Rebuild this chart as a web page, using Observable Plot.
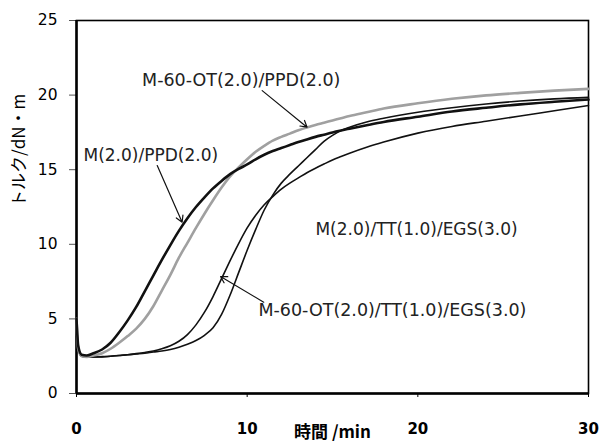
<!DOCTYPE html>
<html><head><meta charset="utf-8">
<script src="https://cdn.jsdelivr.net/npm/d3@7"></script>
<script src="https://cdn.jsdelivr.net/npm/@observablehq/plot@0.6"></script>
<style>body{margin:0;background:#fff}</style>
</head><body><div id="chart"></div>
<script>
const times = [0, 0.1, 0.3, 0.6, 1, 1.5, 2, 2.5, 3, 3.5, 4, 4.5, 5, 5.5, 6, 6.5, 7, 7.5, 8, 8.5, 9, 9.5, 10, 10.5, 11, 11.5, 12, 12.5, 13, 13.5, 14, 14.5, 15, 15.5, 16, 17, 18, 20, 22, 24, 26, 28, 30];
const seriesNames = ["M(2.0)/PPD(2.0)", "M-60-OT(2.0)/PPD(2.0)", "M(2.0)/TT(1.0)/EGS(3.0)", "M-60-OT(2.0)/TT(1.0)/EGS(3.0)"];
const mPPD = [5.0, 3.2, 2.6, 2.55, 2.7, 2.95, 3.4, 4.1, 4.9, 5.8, 6.85, 7.9, 8.95, 9.95, 10.9, 11.75, 12.5, 13.15, 13.75, 14.25, 14.7, 15.05, 15.35, 15.7, 16.0, 16.25, 16.45, 16.65, 16.85, 17.03, 17.2, 17.35, 17.5, 17.63, 17.75, 17.98, 18.2, 18.55, 18.9, 19.15, 19.38, 19.55, 19.7];
const m60PPD = [5.0, 3.0, 2.5, 2.45, 2.55, 2.7, 3.0, 3.4, 3.85, 4.35, 5.0, 5.85, 6.9, 7.95, 9.1, 10.1, 11.1, 12.05, 12.95, 13.8, 14.55, 15.15, 15.7, 16.2, 16.6, 16.95, 17.2, 17.42, 17.65, 17.83, 18.0, 18.15, 18.3, 18.45, 18.6, 18.85, 19.1, 19.45, 19.75, 19.98, 20.15, 20.3, 20.42];
const mTT = [5.0, 3.0, 2.5, 2.45, 2.45, 2.45, 2.5, 2.55, 2.6, 2.65, 2.7, 2.78, 2.85, 2.95, 3.1, 3.3, 3.55, 3.9, 4.4, 5.3, 6.6, 8.1, 9.6, 11.0, 12.3, 13.3, 14.1, 14.7, 15.25, 15.8, 16.35, 16.9, 17.3, 17.62, 17.85, 18.2, 18.45, 18.85, 19.15, 19.4, 19.6, 19.75, 19.85];
const m60TT = [5.0, 3.0, 2.5, 2.45, 2.45, 2.47, 2.5, 2.55, 2.6, 2.67, 2.75, 2.85, 3.0, 3.2, 3.5, 3.95, 4.6, 5.45, 6.5, 7.7, 8.9, 10.05, 11.1, 11.95, 12.65, 13.2, 13.7, 14.1, 14.45, 14.8, 15.1, 15.38, 15.65, 15.88, 16.1, 16.5, 16.85, 17.45, 17.9, 18.25, 18.6, 18.95, 19.3];
const xTicks = [0, 10, 20, 30];
const yTicks = [0, 5, 10, 15, 20, 25];
const xTitle = "時間 /min";
const yTitle = "トルク/dN・m";

const allValues = [mPPD, m60PPD, mTT, m60TT];
const rows = [];
seriesNames.forEach((name, i) => {
  times.forEach((t, j) => rows.push({series: name, t, v: allValues[i][j]}));
});
const only = (name) => rows.filter(d => d.series === name);

const chart = Plot.plot({
  width: 613, height: 448,
  marginLeft: 76, marginRight: 25, marginTop: 20, marginBottom: 55,
  x: {domain: [0, 30]},
  y: {domain: [0, 25]},
  style: {fontFamily: "DejaVu Sans", background: "white", color: "black"},
  marks: [
    Plot.axisY({ticks: yTicks, tickSize: 7, tickPadding: 12, fontSize: 15.5, label: null, stroke: "#555"}),
    Plot.axisX({ticks: xTicks, tickSize: 4, tickPadding: 26, fontSize: 15, fontWeight: "bold", label: null}),
    Plot.frame({strokeWidth: 1.6}),
    Plot.ruleX([0], {strokeWidth: 2.5}),
    Plot.ruleY([0], {strokeWidth: 2.5}),
    Plot.line(only(seriesNames[3]), {x: "t", y: "v", stroke: "#111", strokeWidth: 1.6, curve: "monotone-x"}),
    Plot.line(only(seriesNames[2]), {x: "t", y: "v", stroke: "#111", strokeWidth: 1.6, curve: "monotone-x"}),
    Plot.line(only(seriesNames[1]), {x: "t", y: "v", stroke: "#a0a0a0", strokeWidth: 2.6, curve: "monotone-x"}),
    Plot.line(only(seriesNames[0]), {x: "t", y: "v", stroke: "#111", strokeWidth: 2.6, curve: "monotone-x"}),
    Plot.text([seriesNames[1]], {x: 3.84, y: 20.98, text: d => d, textAnchor: "start", fontSize: 17.5, fill: "#222"}),
    Plot.text([seriesNames[0]], {x: 0.41, y: 15.95, text: d => d, textAnchor: "start", fontSize: 17, fill: "#222"}),
    Plot.text([seriesNames[2]], {x: 14.0, y: 11.0, text: d => d, textAnchor: "start", fontSize: 17, fill: "#222"}),
    Plot.text([seriesNames[3]], {x: 10.66, y: 5.56, text: d => d, textAnchor: "start", fontSize: 17.5, fill: "#222"}),
    Plot.arrow([0], {x1: 10.88, y1: 20.3, x2: 13.51, y2: 17.85, stroke: "#111", strokeWidth: 1.2, headLength: 9}),
    Plot.arrow([0], {x1: 4.73, y1: 15.28, x2: 6.19, y2: 11.48, stroke: "#111", strokeWidth: 1.2, headLength: 9}),
    Plot.arrow([0], {x1: 10.97, y1: 6.12, x2: 8.44, y2: 7.84, stroke: "#111", strokeWidth: 1.2, headLength: 9}),
    Plot.text([xTitle], {frameAnchor: "bottom", dy: 44, text: d => d, fontSize: 17, fontWeight: "bold", fontFamily: "Noto Sans CJK JP"}),
    Plot.text([yTitle], {frameAnchor: "left", dx: -57, rotate: -90, text: d => d, fontSize: 17, fontFamily: "Noto Sans CJK JP"})
  ]
});
document.getElementById("chart").appendChild(chart);
</script>
</body></html>
